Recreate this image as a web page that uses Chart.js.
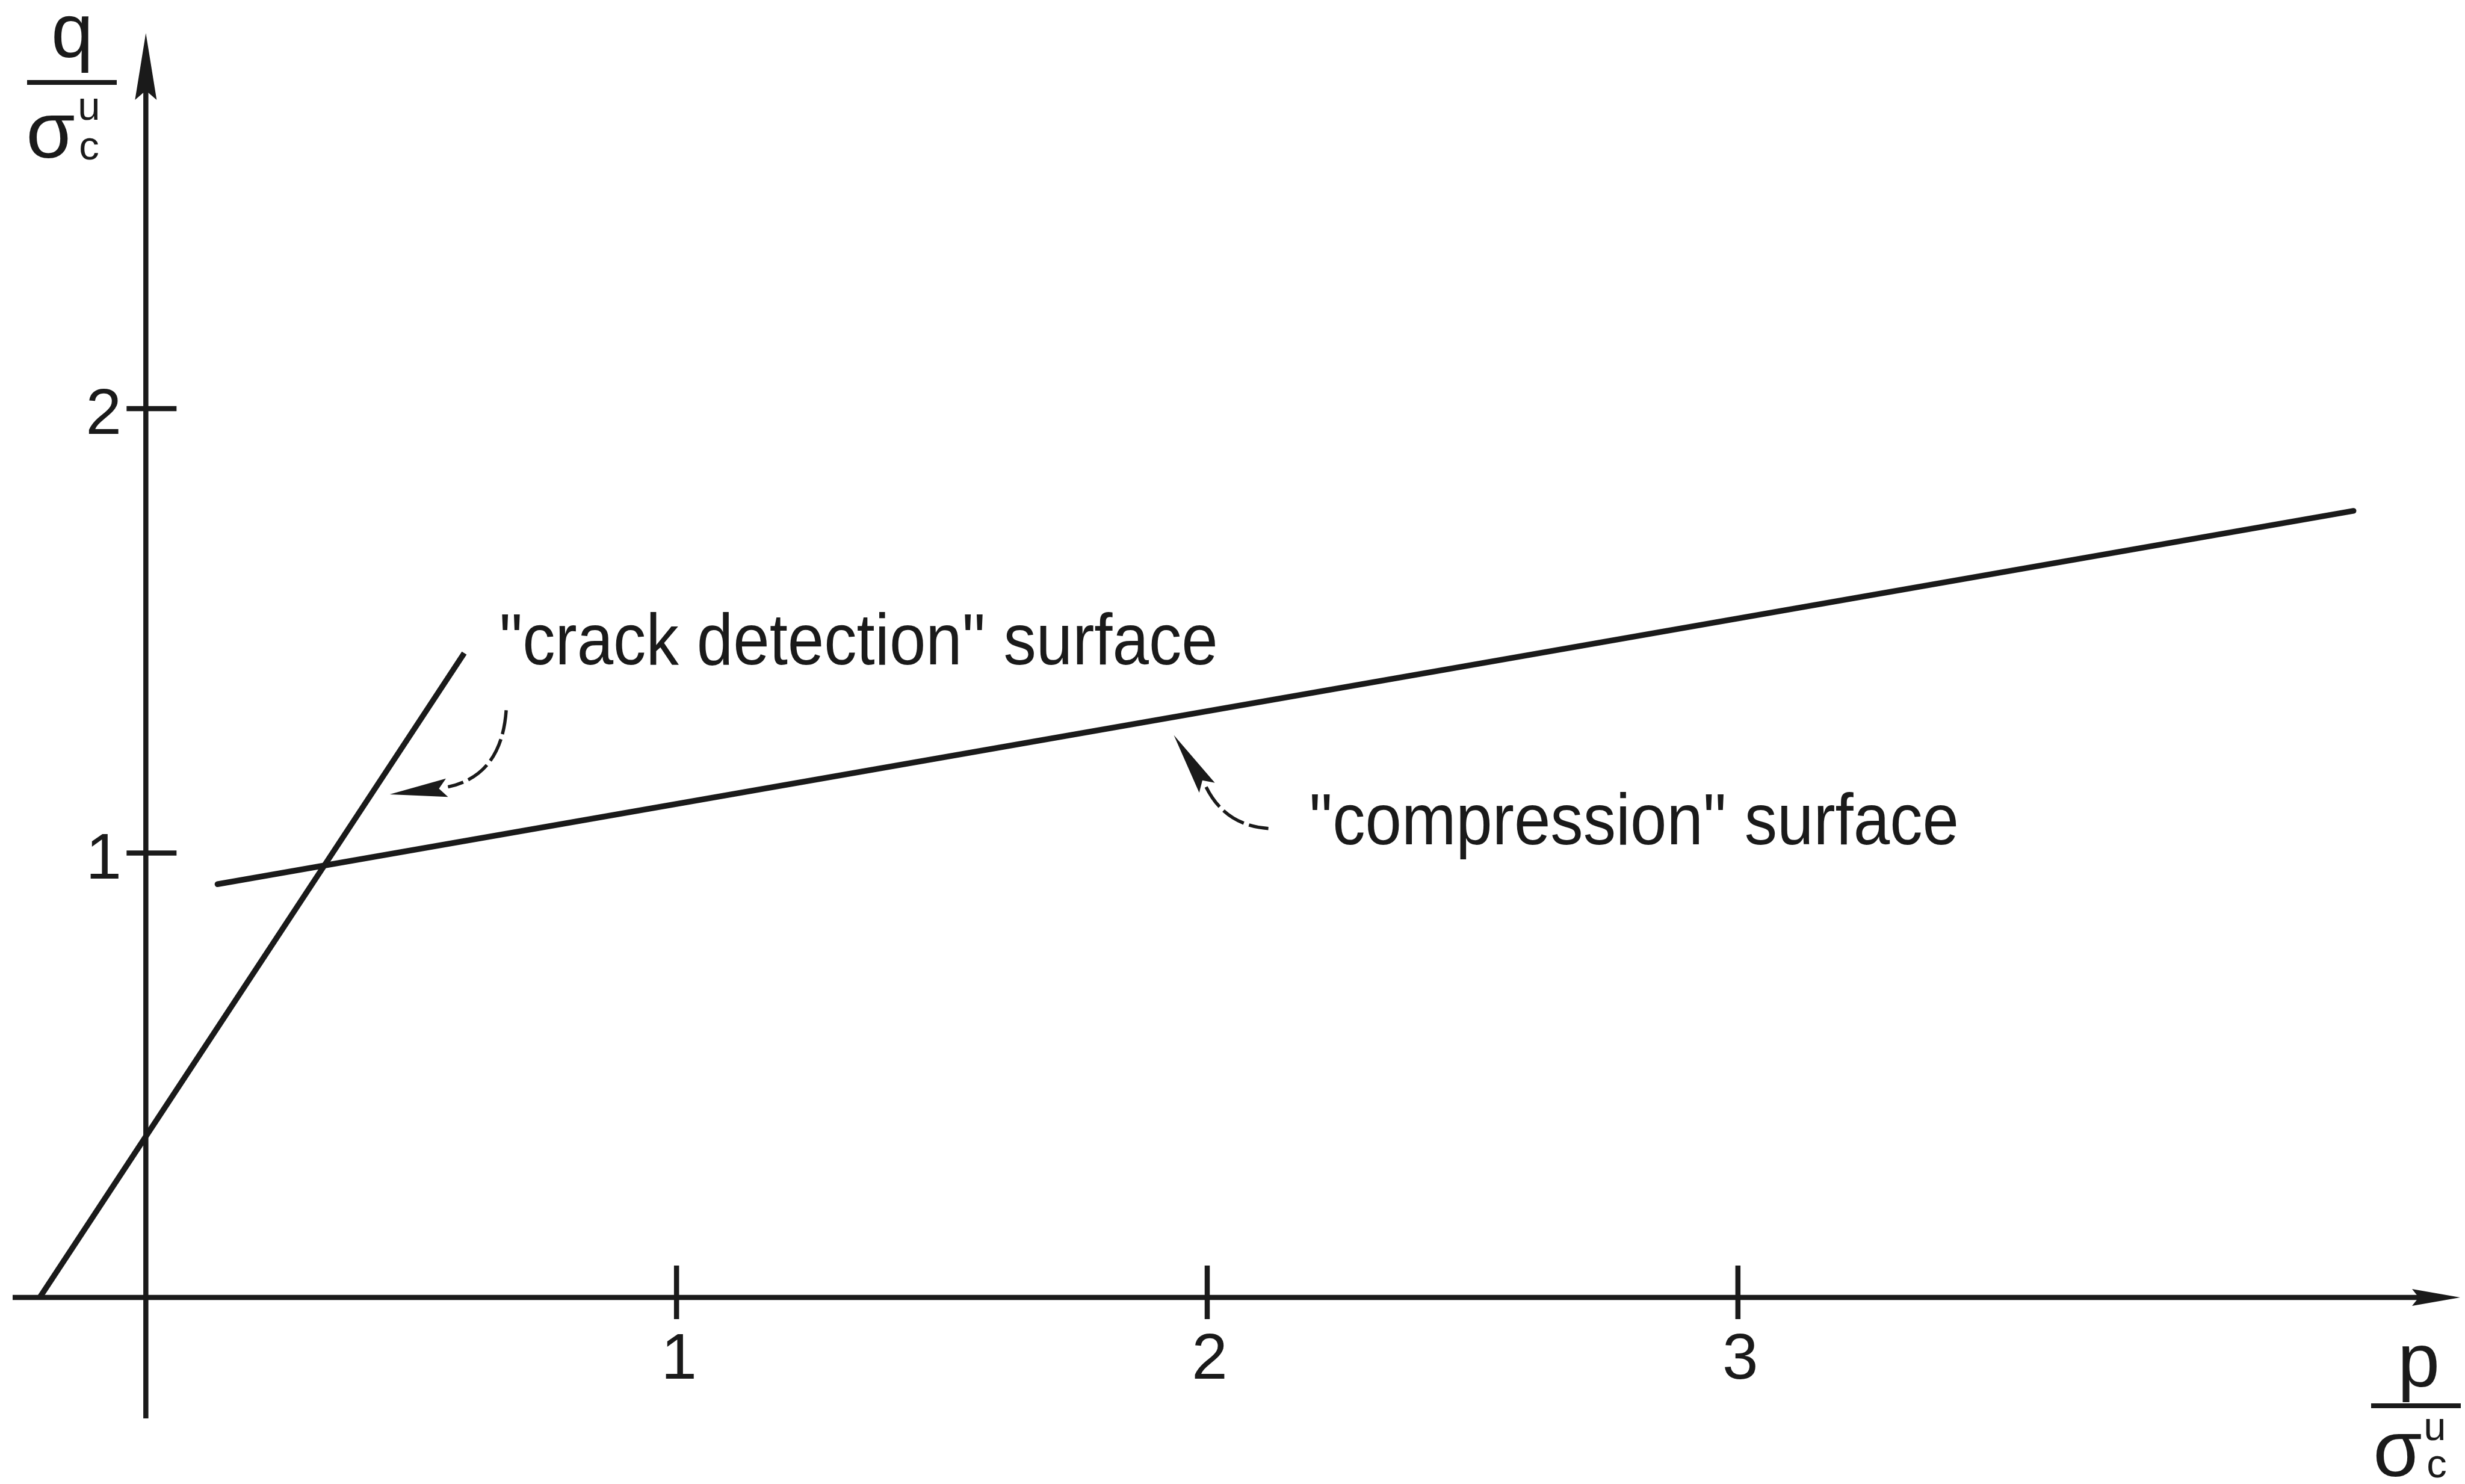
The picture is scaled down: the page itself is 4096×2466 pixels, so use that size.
<!DOCTYPE html>
<html>
<head>
<meta charset="utf-8">
<script src="https://cdn.jsdelivr.net/npm/chart.js@4.4.1/dist/chart.umd.min.js"></script>
<style>
  html, body { margin: 0; padding: 0; background: #fff; overflow: hidden; }
  canvas { display: block; }
</style>
</head>
<body>
<canvas id="surfaces" width="4096" height="2466" style="width:4096px;height:2466px"></canvas>
<script>
// values in p/σ and q/σ units
const crackP = [-0.20, 0.60];
const crackQ = [0.00, 1.45];
const compressionP = [0.135, 4.16];
const compressionQ = [0.93, 1.77];

const xTickValues = [1, 2, 3];
const xTickLabels = ['1', '2', '3'];
const yTickValues = [1, 2];
const yTickLabels = ['1', '2'];

const S = 0.958;          // reference px -> page px
const INK = '#1a1a1a';
const FONT = '"Liberation Sans", Arial, sans-serif';

function toPoints(xs, ys) {
    return xs.map((v, i) => ({ x: v, y: ys[i] }));
}

function arrowHead(ctx, tipX, tipY, angle, len, half) {
    ctx.save();
    ctx.translate(tipX, tipY);
    ctx.rotate(angle);
    ctx.beginPath();
    ctx.moveTo(0, 0);
    ctx.lineTo(-len, -half);
    ctx.lineTo(-len * 0.86, 0);
    ctx.lineTo(-len, half);
    ctx.closePath();
    ctx.fill();
    ctx.restore();
}

function condensedText(ctx, str, x, y, sx) {
    ctx.save();
    ctx.translate(x, y);
    ctx.scale(sx, 1);
    ctx.fillText(str, 0, 0);
    ctx.restore();
}

// axes with arrows and crossing tick marks
const axesPlugin = {
    id: 'axes',
    beforeDatasetsDraw(chart) {
        const { ctx, chartArea, scales: { x, y } } = chart;
        const x0 = x.getPixelForValue(0);
        const y0 = y.getPixelForValue(0);
        ctx.save();
        ctx.strokeStyle = INK;
        ctx.fillStyle = INK;
        ctx.lineWidth = 8.5;

        ctx.beginPath();
        ctx.moveTo(chartArea.left, y0);
        ctx.lineTo(chartArea.right - 60, y0);
        ctx.stroke();
        arrowHead(ctx, chartArea.right, y0, 0, 80, 14);

        ctx.beginPath();
        ctx.moveTo(x0, chartArea.bottom);
        ctx.lineTo(x0, chartArea.top + 90);
        ctx.stroke();
        arrowHead(ctx, x0, chartArea.top, -Math.PI / 2, 111, 18);

        ctx.font = '107px ' + FONT;
        ctx.textAlign = 'center';
        ctx.textBaseline = 'alphabetic';
        xTickValues.forEach((v, i) => {
            const px = x.getPixelForValue(v);
            ctx.beginPath();
            ctx.moveTo(px, y0 - 53);
            ctx.lineTo(px, y0 + 36);
            ctx.stroke();
            ctx.fillText(xTickLabels[i], px + 4, y0 + 135);
        });
        yTickValues.forEach((v, i) => {
            const py = y.getPixelForValue(v);
            ctx.beginPath();
            ctx.moveTo(x0 - 32, py);
            ctx.lineTo(x0 + 51, py);
            ctx.stroke();
            ctx.fillText(yTickLabels[i], x0 - 70, py + 42);
        });
        ctx.restore();
    }
};

// axis titles and the two surface notes
const notesPlugin = {
    id: 'notes',
    afterDatasetsDraw(chart) {
        const ctx = chart.ctx;
        ctx.save();
        ctx.fillStyle = INK;
        ctx.strokeStyle = INK;
        ctx.textAlign = 'center';
        ctx.textBaseline = 'alphabetic';

        // q / σ_c^u
        ctx.font = '126px ' + FONT;
        ctx.fillText('q', 120, 95);
        ctx.font = '132px ' + FONT;
        ctx.fillText('σ', 84, 262);
        ctx.font = '67px ' + FONT;
        ctx.fillText('u', 148, 199);
        ctx.fillText('c', 148, 265);
        ctx.lineWidth = 8;
        ctx.beginPath();
        ctx.moveTo(45, 137);
        ctx.lineTo(194, 137);
        ctx.stroke();

        // p / σ_c^u
        ctx.font = '126px ' + FONT;
        ctx.fillText('p', 4019, 2304);
        ctx.font = '132px ' + FONT;
        ctx.fillText('σ', 3984, 2453);
        ctx.font = '67px ' + FONT;
        ctx.fillText('u', 4046, 2393);
        ctx.fillText('c', 4049, 2455);
        ctx.beginPath();
        ctx.moveTo(3940, 2336);
        ctx.lineTo(4089, 2336);
        ctx.stroke();

        // surface labels
        ctx.font = (126 * S).toFixed(1) + 'px ' + FONT;
        ctx.textAlign = 'left';
        condensedText(ctx, '"crack detection" surface', 866 * S, 1152 * S, 0.9);
        condensedText(ctx, '"compression" surface', 2271 * S, 1465 * S, 0.9);

        // leader arrows
        ctx.lineWidth = 5.5;
        ctx.setLineDash([40, 9]);
        ctx.beginPath();
        ctx.moveTo(878 * S, 1232 * S);
        ctx.quadraticCurveTo(870 * S, 1345 * S, 777 * S, 1365 * S);
        ctx.stroke();
        ctx.beginPath();
        ctx.moveTo(2092 * S, 1365 * S);
        ctx.quadraticCurveTo(2125 * S, 1432 * S, 2200 * S, 1437 * S);
        ctx.stroke();
        ctx.setLineDash([]);

        arrowHead(ctx, 676 * S, 1378 * S, Math.atan2(1378 - 1365, 676 - 787), 100 * S, 16 * S);
        arrowHead(ctx, 2036 * S, 1275 * S, Math.atan2(1275 - 1367, 2036 - 2094), 108 * S, 16 * S);
        ctx.restore();
    }
};

const surfacesCtx = document.getElementById('surfaces').getContext('2d');

const surfacesChart = new Chart(surfacesCtx, {
    type: 'scatter',
    data: {
        datasets: [{
            label: 'crack detection surface',
            data: toPoints(crackP, crackQ),
            showLine: true,
            borderColor: INK,
            borderWidth: 9.5,
            pointRadius: 0,
            fill: false
        }, {
            label: 'compression surface',
            data: toPoints(compressionP, compressionQ),
            showLine: true,
            borderColor: INK,
            borderWidth: 9.5,
            borderCapStyle: 'round',
            pointRadius: 0,
            fill: false
        }]
    },
    options: {
        responsive: false,
        animation: false,
        devicePixelRatio: 1,
        layout: {
            padding: { left: 21, right: 8, top: 55, bottom: 109 }
        },
        plugins: {
            legend: { display: false },
            tooltip: { enabled: false }
        },
        scales: {
            x: { type: 'linear', min: -0.251, max: 4.361, display: false },
            y: { type: 'linear', min: -0.272, max: 2.845, display: false }
        }
    },
    plugins: [axesPlugin, notesPlugin]
});
</script>
</body>
</html>
